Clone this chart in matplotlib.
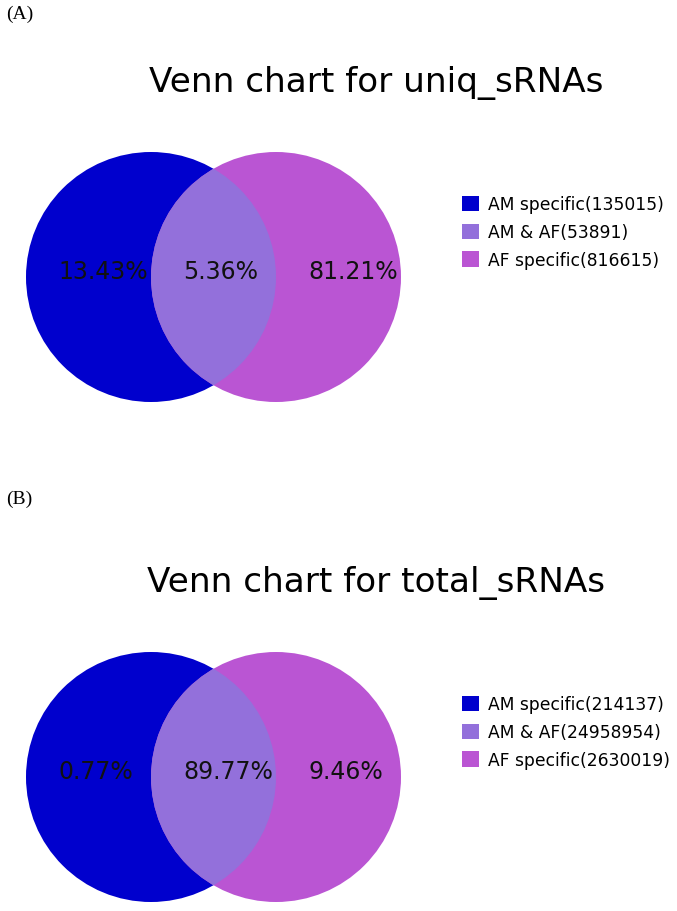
import matplotlib
matplotlib.use("Agg")
import matplotlib.pyplot as plt
from matplotlib.patches import Circle, Patch

# set sizes read from the legends
groups = ["AM specific", "AM & AF", "AF specific"]
colors = ["#0000CD", "#9370DB", "#BA55D3"]

uniq_counts = [135015, 53891, 816615]
total_counts = [214137, 24958954, 2630019]

panel_tags = ["(A)", "(B)"]
panel_titles = ["Venn chart for uniq_sRNAs", "Venn chart for total_sRNAs"]

W, H = 677, 912


def draw_panel(ax, y0, tag_y, tag, title, counts):
    """Draw one two-set Venn panel; y0 is the vertical offset in pixels."""
    total = sum(counts)
    pct = [c / total * 100 for c in counts]

    r = 125
    cy = y0 + 278
    cx_left, cx_right = 151, 276

    left = Circle((cx_left, cy), r, facecolor=colors[0], edgecolor="none")
    right = Circle((cx_right, cy), r, facecolor=colors[2], edgecolor="none")
    ax.add_patch(left)
    ax.add_patch(right)
    # lens = right circle clipped to the left one
    lens = Circle((cx_right, cy), r, facecolor=colors[1], edgecolor="none")
    ax.add_patch(lens)
    lens.set_clip_path(left)

    # region labels, left aligned a bit inside each region
    xs = [cx_left - r + 32, cx_right - r + 32, cx_left + r + 32]
    for x, p in zip(xs, pct):
        ax.text(x, cy + 1, f"{p:.2f}%", fontsize=17, ha="left", va="baseline",
                color="#111111")

    ax.text(6, tag_y, tag, fontsize=14, family="Liberation Serif",
            ha="left", va="center")
    ax.text(376, y0 + 92, title, fontsize=24.7, ha="center", va="baseline")

    handles = [Patch(facecolor=c, edgecolor="none") for c in colors]
    labels = [f"{g}({n})" for g, n in zip(groups, counts)]
    leg = ax.legend(handles, labels, loc="center left",
                    bbox_to_anchor=(462, y0 + 233),
                    bbox_transform=ax.transData,
                    frameon=False, fontsize=12.3, borderpad=0,
                    borderaxespad=0, handlelength=1.0, handleheight=1.0,
                    handletextpad=0.55, labelspacing=0.58)
    return leg


fig = plt.figure(figsize=(W / 100, H / 100), dpi=100)
ax = fig.add_axes([0, 0, 1, 1])
ax.set_xlim(0, W)
ax.set_ylim(H, 0)
ax.axis("off")

leg_a = draw_panel(ax, 0, 14, panel_tags[0], panel_titles[0], uniq_counts)
ax.add_artist(leg_a)
draw_panel(ax, 500, 499, panel_tags[1], panel_titles[1], total_counts)

fig.savefig("out.png", dpi=100, facecolor="white")
